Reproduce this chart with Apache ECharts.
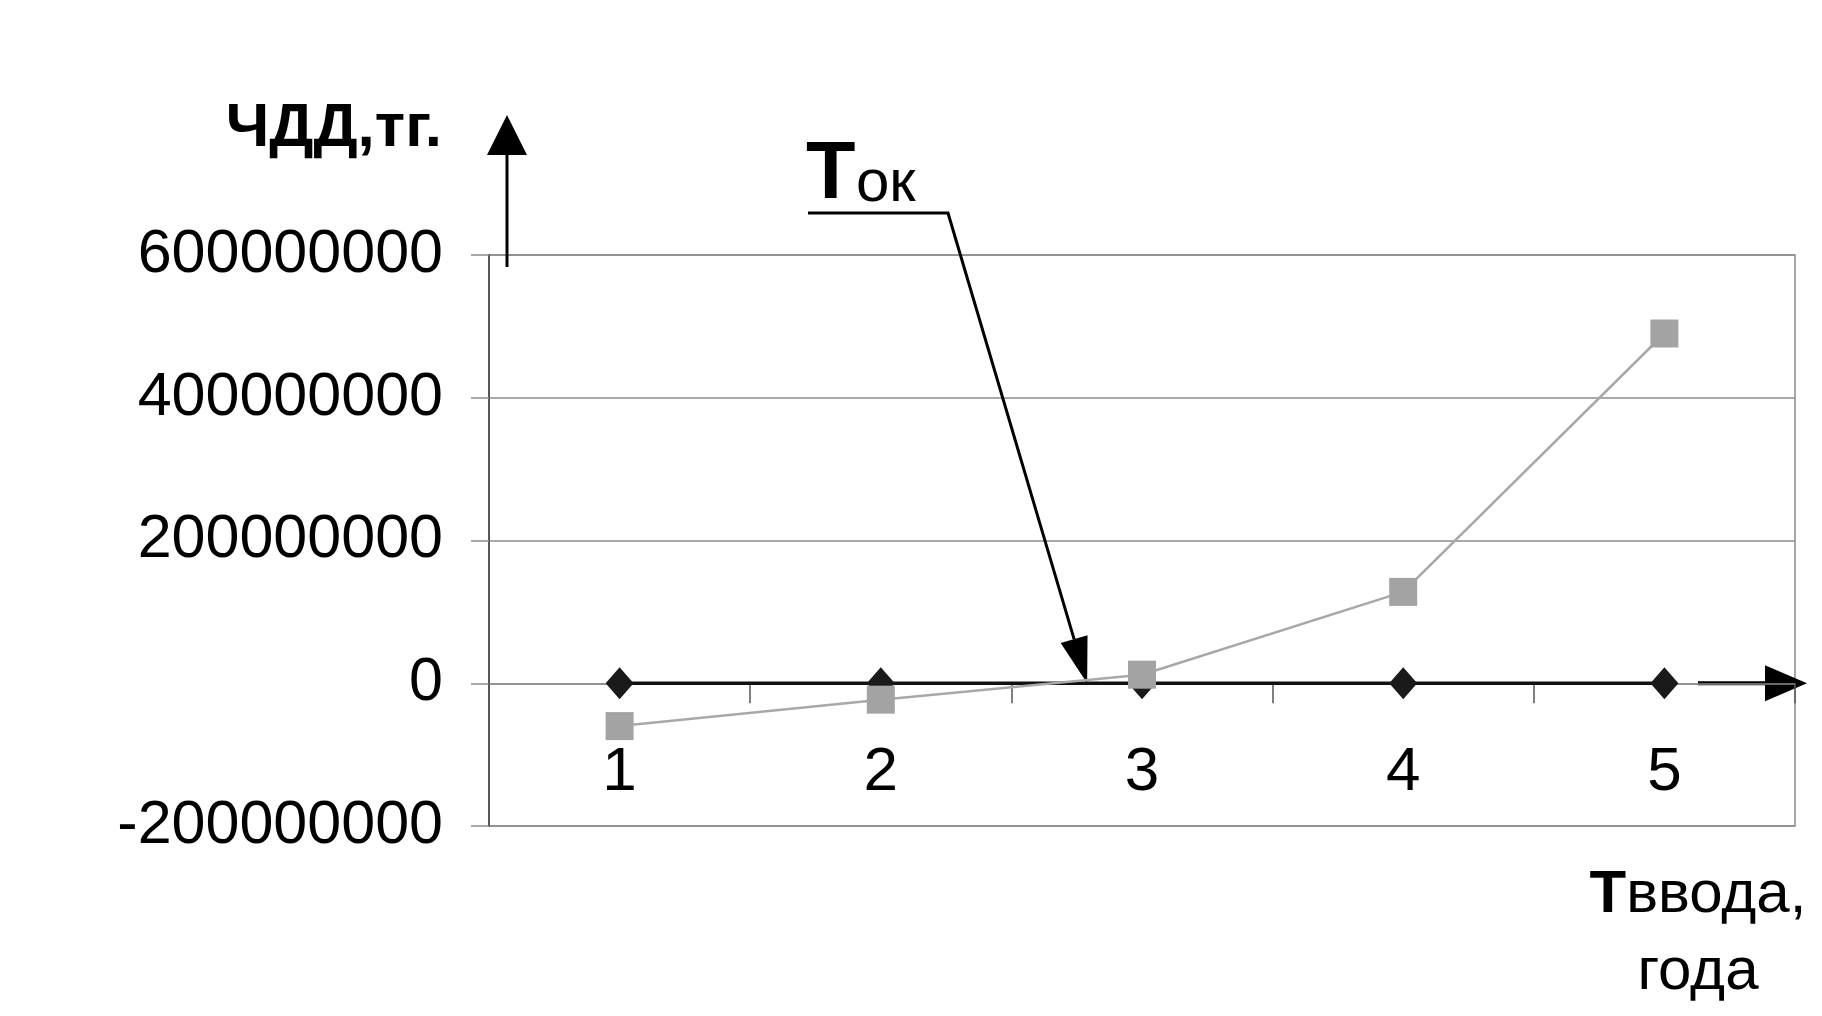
<!DOCTYPE html>
<html><head><meta charset="utf-8">
<script src="https://cdn.jsdelivr.net/npm/echarts@6/dist/echarts.min.js"></script>
<style>html,body{margin:0;padding:0;background:#fff}#c{width:1822px;height:1016px}</style>
</head><body><div id="c"></div>
<script>
const categories = ['1', '2', '3', '4', '5'];
const baseValues = [0, 0, 0, 0, 0];
const npvValues = [-60000000, -23000000, 12000000, 128000000, 490000000];
const yMin = -200000000;
const yMax = 600000000;
const yInterval = 200000000;
const yAxisTitle = 'ЧДД,тг.';
const xAxisTitleBold = 'Т';
const xAxisTitleRest = 'ввода,';
const xAxisTitleLine2 = 'года';
const annotationBold = 'Т';
const annotationRest = 'ок';
const annotationCategoryPos = 2.79; // where the Ток arrow points, in category units

const FONT = '"Liberation Sans", Arial, sans-serif';
const gridLeft = 489, gridRight = 27, gridTop = 255, gridBottom = 190;

const chart = echarts.init(document.getElementById('c'), null, {renderer: 'canvas'});
chart.setOption({
  animation: false,
  backgroundColor: '#ffffff',
  grid: {left: gridLeft, right: gridRight, top: gridTop, bottom: gridBottom,
         show: true, borderColor: '#8c8c8c', borderWidth: 1.5, backgroundColor: 'transparent'},
  xAxis: {
    type: 'category', data: categories, boundaryGap: true,
    axisLine: {onZero: true, lineStyle: {color: '#8c8c8c', width: 1.5}},
    axisTick: {show: true, length: 20, inside: false, lineStyle: {color: '#555', width: 1.5}},
    axisLabel: {margin: -84, fontSize: 62, fontFamily: FONT, color: '#000'},
    splitLine: {show: false}
  },
  yAxis: {
    type: 'value', min: yMin, max: yMax, interval: yInterval,
    axisLine: {show: true, lineStyle: {color: '#555', width: 2}},
    axisTick: {show: true, length: 18, inside: false, lineStyle: {color: '#8c8c8c', width: 1.5}},
    axisLabel: {margin: 46, fontSize: 61, fontFamily: FONT, color: '#000', formatter: v => String(v)},
    splitLine: {show: true, lineStyle: {color: '#8c8c8c', width: 1.5}}
  },
  series: [
    {type: 'line', data: baseValues, symbol: 'diamond', symbolSize: [28, 32],
     lineStyle: {color: '#111', width: 3.5}, itemStyle: {color: '#1a1a1a'}, z: 3},
    {type: 'line', data: npvValues, symbol: 'rect', symbolSize: 28,
     lineStyle: {color: '#a8a8a8', width: 2.5}, itemStyle: {color: '#a3a3a3'}, z: 4}
  ]
});

// annotation geometry derived from axes
const P = categories.map(c => chart.convertToPixel({xAxisIndex: 0, yAxisIndex: 0}, [c, 0]));
const y0 = P[0][1];
const step = P[1][0] - P[0][0];
const tip = [P[0][0] + (annotationCategoryPos - 1) * step, y0];
const elbow = [948, 213];
const dx = tip[0] - elbow[0], dy = tip[1] - elbow[1];
const len = Math.hypot(dx, dy);
const ux = dx / len, uy = dy / len, nx = -uy, ny = ux;
const headLen = 46, headHalf = 14;
const base = [tip[0] - ux * headLen, tip[1] - uy * headLen];

const yArrowX = gridLeft + 18;
const xArrowStart = 1698, xArrowTip = 1807;

chart.setOption({
  graphic: [
    {type: 'line', shape: {x1: yArrowX, y1: 267, x2: yArrowX, y2: 150}, style: {stroke: '#000', lineWidth: 3}},
    {type: 'polygon', shape: {points: [[yArrowX, 115], [yArrowX - 20, 155], [yArrowX + 20, 155]]}, style: {fill: '#000'}},
    {type: 'line', shape: {x1: xArrowStart, y1: y0, x2: xArrowTip - 38, y2: y0}, style: {stroke: '#000', lineWidth: 4}},
    {type: 'polygon', shape: {points: [[xArrowTip, y0], [xArrowTip - 42, y0 - 18], [xArrowTip - 42, y0 + 18]]}, style: {fill: '#000'}},
    {type: 'polyline', shape: {points: [[808, 213], elbow, base]}, style: {stroke: '#000', lineWidth: 3, fill: null}},
    {type: 'polygon', shape: {points: [tip, [base[0] + nx * headHalf, base[1] + ny * headHalf], [base[0] - nx * headHalf, base[1] - ny * headHalf]]}, style: {fill: '#000'}},
    {type: 'text', x: 806, y: 176, style: {text: annotationBold, font: 'bold 81px ' + FONT, fill: '#000', align: 'left', verticalAlign: 'middle'}},
    {type: 'text', x: 856, y: 184, style: {text: annotationRest, font: '60px ' + FONT, fill: '#000', align: 'left', verticalAlign: 'middle'}},
    {type: 'text', x: 442, y: 129, style: {text: yAxisTitle, font: 'bold 62px ' + FONT, fill: '#000', align: 'right', verticalAlign: 'middle'}},
    {type: 'text', x: 1698, y: 934, style: {
      text: '{b|' + xAxisTitleBold + '}{r|' + xAxisTitleRest + '}\n{r|' + xAxisTitleLine2 + '}',
      align: 'center', verticalAlign: 'middle', fill: '#000',
      rich: {b: {font: 'bold 60px ' + FONT, lineHeight: 77, fill: '#000'}, r: {font: '60px ' + FONT, lineHeight: 77, fill: '#000'}}
    }}
  ]
});
</script></body></html>
